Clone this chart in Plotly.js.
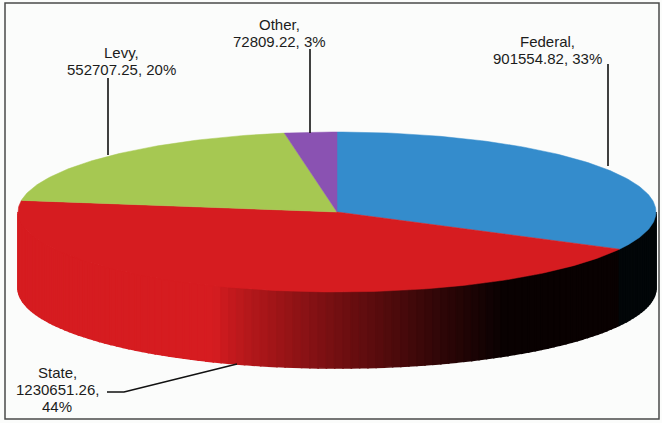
<!DOCTYPE html>
<html>
<head>
<meta charset="utf-8">
<script src="https://cdn.plot.ly/plotly-3.0.1.min.js"></script>
<style>html,body{margin:0;padding:0;background:#fff;}#chart{width:662px;height:423px;}</style>
</head>
<body>
<div id="chart"></div>
<script>
// ---- data ----
const categories = ['Federal', 'State', 'Levy', 'Other'];
const values = [901554.82, 1230651.26, 552707.25, 72809.22];
const valueLabels = ['901554.82', '1230651.26', '552707.25', '72809.22'];
const percentLabels = ['33%', '44%', '20%', '3%'];

// ---- styling / geometry ----
const colors = [[52, 140, 204], [214, 28, 32], [166, 200, 82], [138, 82, 178]];
const cx = 337, cy = 212, a = 319, b = 80, depth = 76;
const startAngle = 90;

function pt(deg) {
  const r = deg * Math.PI / 180;
  return [cx + a * Math.cos(r), cy - b * Math.sin(r)];
}
function rgb(c, k) {
  return 'rgb(' + c.map(v => Math.round(v * k)).join(',') + ')';
}

const total = values.reduce((s, v) => s + v, 0);
const cum = [0];
values.forEach(v => cum.push(cum[cum.length - 1] + v / total * 360));

function sliceAt(theta) {
  let u = ((startAngle - theta) % 360 + 360) % 360;
  for (let i = 0; i < values.length; i++) if (u >= cum[i] && u < cum[i + 1]) return i;
  return values.length - 1;
}

const traces = [];

// side wall (front half)
const breaks = [-180, 0];
cum.forEach(c => {
  const t = startAngle - c;
  for (let k = -2; k <= 2; k++) {
    const tt = t + 360 * k;
    if (tt > -180 && tt < 0) breaks.push(tt);
  }
});
breaks.sort((p, q) => p - q);
for (let j = 0; j < breaks.length - 1; j++) {
  const t0 = breaks[j], t1 = breaks[j + 1];
  const n = Math.max(1, Math.ceil((t1 - t0) / 1.5));
  for (let s = 0; s < n; s++) {
    const a0 = t0 + (t1 - t0) * s / n, a1 = t0 + (t1 - t0) * (s + 1) / n;
    const mid = (a0 + a1) / 2;
    const idx = sliceAt(mid);
    const pm = pt(mid);
    let tt = (pm[0] - 215) / (505 - 215);
    tt = Math.min(1, Math.max(0, tt));
    const k = 1 - 0.96 * Math.pow(tt, 0.85);
    const p0 = pt(a0), p1 = pt(a1);
    const col = rgb(colors[idx], k);
    traces.push({
      type: 'scatter', mode: 'lines', fill: 'toself', fillcolor: col,
      line: {color: col, width: 1.6},
      x: [p0[0], p1[0], p1[0], p0[0], p0[0]],
      y: [p0[1], p1[1], p1[1] + depth, p0[1] + depth, p0[1]],
      hoverinfo: 'skip', showlegend: false
    });
  }
}

// top faces
values.forEach((v, i) => {
  const s = startAngle - cum[i], e = startAngle - cum[i + 1];
  const xs = [cx], ys = [cy];
  const n = Math.max(4, Math.ceil((s - e) / 1));
  for (let k = 0; k <= n; k++) {
    const p = pt(s - (s - e) * k / n);
    xs.push(p[0]); ys.push(p[1]);
  }
  xs.push(cx); ys.push(cy);
  const col = rgb(colors[i], 1);
  traces.push({
    type: 'scatter', mode: 'lines', fill: 'toself', fillcolor: col,
    line: {color: col, width: 0.5}, x: xs, y: ys,
    name: categories[i], hoverinfo: 'name', showlegend: false
  });
});

const font = {family: 'Liberation Sans, Arial, sans-serif', size: 15, color: '#1c1c1c'};
// label line layout: [centre x, first line y]
const labelPos = {
  Federal: [547, 41], State: [57, 372], Levy: [121, 52], Other: [279, 24]
};
const lineGap = 17;
const annotations = [];
categories.forEach((c, i) => {
  const lines = c === 'State'
    ? [c + ',', valueLabels[i] + ',', percentLabels[i]]
    : [c + ',', valueLabels[i] + ', ' + percentLabels[i]];
  lines.forEach((ln, j) => {
    annotations.push({
      x: labelPos[c][0], y: labelPos[c][1] + j * lineGap, xref: 'x', yref: 'y',
      text: ln, showarrow: false, font: font, align: 'center',
      xanchor: 'center', yanchor: 'middle'
    });
  });
});

const lineStyle = {color: '#111', width: 1.6};
const shapes = [
  {type: 'rect', xref: 'x', yref: 'y', x0: 5, y0: 3, x1: 659, y1: 419,
   line: {color: '#4a4a4a', width: 1.5}, fillcolor: 'rgba(0,0,0,0)', layer: 'below'},
  {type: 'line', xref: 'x', yref: 'y', x0: 108, y0: 78, x1: 108, y1: 155, line: lineStyle},
  {type: 'line', xref: 'x', yref: 'y', x0: 310, y0: 49, x1: 310, y1: 133, line: lineStyle},
  {type: 'line', xref: 'x', yref: 'y', x0: 608, y0: 64, x1: 608, y1: 166, line: lineStyle},
  {type: 'path', xref: 'x', yref: 'y', path: 'M107,392 L124,392 L237,364', line: lineStyle}
];

const layout = {
  width: 662, height: 423,
  margin: {l: 0, r: 0, t: 0, b: 0},
  paper_bgcolor: '#fbfcfb', plot_bgcolor: '#fbfcfb',
  xaxis: {range: [0, 662], visible: false, fixedrange: true},
  yaxis: {range: [423, 0], visible: false, fixedrange: true},
  showlegend: false,
  annotations: annotations,
  shapes: shapes
};

Plotly.newPlot('chart', traces, layout, {displayModeBar: false, staticPlot: true});
</script>
</body>
</html>
